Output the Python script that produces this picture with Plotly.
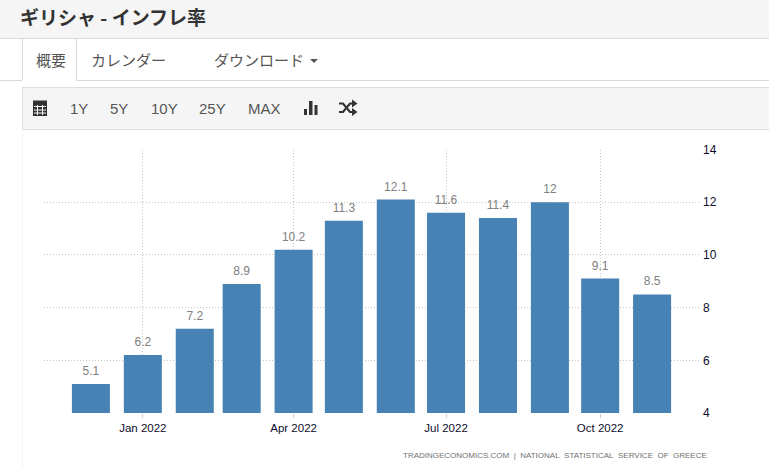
import plotly.graph_objects as go

W = 769
H = 468

months = ['2021-12-01', '2022-01-01', '2022-02-01', '2022-03-01', '2022-04-01', '2022-05-01',
          '2022-06-01', '2022-07-01', '2022-08-01', '2022-09-01', '2022-10-01', '2022-11-01']
inflation = [5.1, 6.2, 7.2, 8.9, 10.2, 11.3, 12.1, 11.6, 11.4, 12, 9.1, 8.5]
x_ticks = ['2022-01-01', '2022-04-01', '2022-07-01', '2022-10-01']
x_tick_labels = ['Jan 2022', 'Apr 2022', 'Jul 2022', 'Oct 2022']
y_ticks = [4, 6, 8, 10, 12, 14]

DAY_MS = 86400000
TEXT_FONT = 'Liberation Sans'
JP_FONT = 'Noto Sans CJK JP'


def px(x):
    return x / W


def py(y):
    return 1 - y / H


def rect(x0, y0, x1, y1, fill='rgba(0,0,0,0)', line=None):
    return dict(type='rect', xref='paper', yref='paper', x0=px(x0), x1=px(x1), y0=py(y0), y1=py(y1),
                fillcolor=fill, line=dict(color=line or 'rgba(0,0,0,0)', width=1), layer='below')


def hline(x0, x1, y, color='#d9d9d9'):
    return dict(type='line', xref='paper', yref='paper', x0=px(x0), x1=px(x1), y0=py(y), y1=py(y),
                line=dict(color=color, width=1), layer='below')


def vline(x, y0, y1, color='#d9d9d9'):
    return dict(type='line', xref='paper', yref='paper', x0=px(x), x1=px(x), y0=py(y0), y1=py(y1),
                line=dict(color=color, width=1), layer='below')


def label(text, x, y, size=15, color='#555555', font=TEXT_FONT, anchor='left'):
    # annotations carry a couple of px of padding
    x = x - 2 if anchor == 'left' else x + 2
    return dict(text=text, xref='paper', yref='paper', x=px(x), y=py(y), xanchor=anchor, yanchor='middle',
                showarrow=False, font=dict(family=font, size=size, color=color))


fig = go.Figure()
fig.add_trace(go.Bar(
    x=months,
    y=inflation,
    width=22.7 * DAY_MS,
    marker=dict(color='#4682b4', line=dict(width=0)),
    hoverinfo='x+y',
))
# value labels as a text trace, the invisible marker lifts them off the bar top
fig.add_trace(go.Scatter(
    x=months,
    y=inflation,
    mode='markers+text',
    marker=dict(size=8, color='rgba(0,0,0,0)'),
    text=[str(v) for v in inflation],
    textposition='top center',
    cliponaxis=False,
    textfont=dict(family=TEXT_FONT, size=12, color='#808080'),
    hoverinfo='skip',
))

# page chrome around the chart
shapes = [
    rect(0, 0, W, 38, fill='#f5f5f5'),
    hline(0, W, 38.5),
    hline(0, 22, 80.5),
    hline(76, W, 80.5),
    vline(22.5, 38, 80),
    vline(76.5, 38, 80),
    rect(22.5, 87.5, W + 2, 129.5, fill='#f5f5f5', line='#dddddd'),
    vline(22.5, 129, H, color='#f3f3f3'),
    # calendar icon
    rect(33, 103, 47, 116, fill='#333333'),
    rect(33, 100.5, 47, 103, fill='#333333'),
    hline(34, 46, 106.5, color='#f5f5f5'),
    hline(34, 46, 110, color='#f5f5f5'),
    hline(34, 46, 113, color='#f5f5f5'),
    vline(37.5, 105, 115, color='#f5f5f5'),
    vline(42.5, 105, 115, color='#f5f5f5'),
    # bar chart icon
    rect(304, 109, 307, 115, fill='#333333'),
    rect(309, 101, 312.5, 115, fill='#333333'),
    rect(314.5, 105, 317.5, 115, fill='#333333'),
]

# shuffle icon
for path in [
    'M 339 103.5 L 343 103.5 L 350 112 L 353 112',
    'M 339 112 L 343 112 L 350 103.5 L 353 103.5',
]:
    pts = path.replace('M ', '').replace('L ', '').split()
    coords = [(float(pts[i]), float(pts[i + 1])) for i in range(0, len(pts), 2)]
    d = 'M ' + ' L '.join(f'{px(a):.5f},{py(b):.5f}' for a, b in coords)
    shapes.append(dict(type='path', xref='paper', yref='paper', path=d, line=dict(color='#333333', width=2.2)))
for tip in [103.5, 112]:
    d = f'M {px(352):.5f},{py(tip - 4):.5f} L {px(357.5):.5f},{py(tip):.5f} L {px(352):.5f},{py(tip + 4):.5f} Z'
    shapes.append(dict(type='path', xref='paper', yref='paper', path=d, fillcolor='#333333', line=dict(width=0)))

# caret next to download
shapes.append(dict(type='path', xref='paper', yref='paper',
                   path=f'M {px(310):.5f},{py(59):.5f} L {px(318):.5f},{py(59):.5f} L {px(314):.5f},{py(63):.5f} Z',
                   fillcolor='#555555', line=dict(width=0)))

annotations = [
    label('<b>ギリシャ - インフレ率</b>', 20, 17, size=19, color='#333333', font=JP_FONT),
    label('概要', 36, 59, font=JP_FONT),
    label('カレンダー', 91, 59, font=JP_FONT),
    label('ダウンロード', 214, 59, font=JP_FONT),
    label('1Y', 70, 108, size=15),
    label('5Y', 110, 108, size=15),
    label('10Y', 151, 108, size=15),
    label('25Y', 199, 108, size=15),
    label('MAX', 248, 108, size=15),
    label('TRADINGECONOMICS.COM&nbsp;&nbsp;|&nbsp;&nbsp;NATIONAL&nbsp;&nbsp;STATISTICAL&nbsp;&nbsp;SERVICE&nbsp;&nbsp;OF&nbsp;&nbsp;GREECE',
          707, 455, size=8, color='#707070', anchor='right'),
]

fig.update_layout(
    width=W,
    height=H,
    margin=dict(l=0, r=0, t=0, b=0),
    paper_bgcolor='white',
    plot_bgcolor='white',
    showlegend=False,
    shapes=shapes,
    annotations=annotations,
    xaxis=dict(
        type='date',
        automargin=False,
        domain=[px(44), px(699)],
        range=['2021-11-03', '2022-11-29'],
        tickvals=x_ticks,
        ticktext=x_tick_labels,
        ticks='outside',
        ticklen=4,
        tickcolor='#cccccc',
        showgrid=True,
        gridcolor='#c4c4c4',
        griddash='1px,2px',
        gridwidth=1,
        showline=False,
        zeroline=False,
        tickfont=dict(family=TEXT_FONT, size=11.5, color='#0d0d2b'),
    ),
    yaxis=dict(
        side='right',
        automargin=False,
        domain=[py(413), py(149.5)],
        range=[4, 14],
        tickvals=y_ticks,
        showgrid=True,
        gridcolor='#c4c4c4',
        griddash='1px,2px',
        gridwidth=1,
        showline=False,
        zeroline=False,
        ticks='',
        ticklabelstandoff=3,
        tickfont=dict(family=TEXT_FONT, size=12, color='#0d0d2b'),
    ),
)

fig.write_html('out.html', config=dict(displayModeBar=False), post_script="document.body.style.margin='0';")
